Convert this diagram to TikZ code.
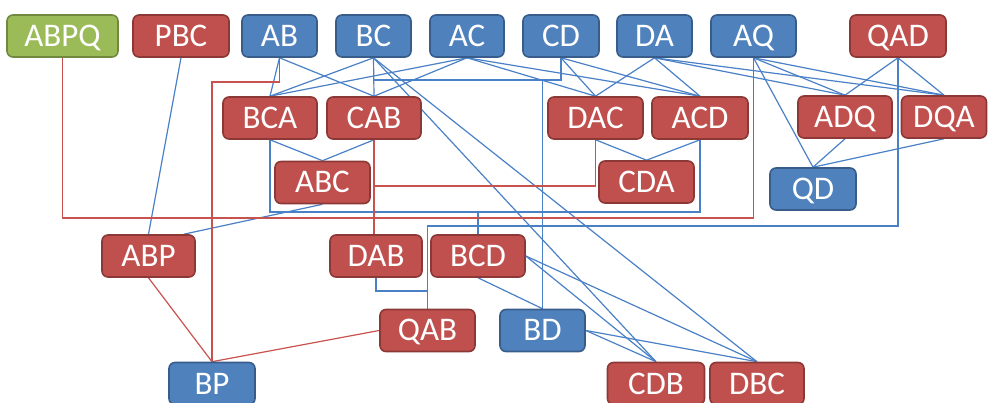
\documentclass[tikz,border=0pt]{standalone}
\usepackage{fontspec}
\setmainfont{Carlito}
\usetikzlibrary{backgrounds}
\definecolor{gfill}{HTML}{9BBB59}
\definecolor{gdraw}{HTML}{71893F}
\definecolor{rfill}{HTML}{C0504D}
\definecolor{rdraw}{HTML}{8C3836}
\definecolor{bfill}{HTML}{4F81BD}
\definecolor{bdraw}{HTML}{385D8A}
\definecolor{lblue}{HTML}{4A80C6}
\definecolor{lred}{HTML}{C8524E}
\begin{document}
\begin{tikzpicture}[x=1pt,y=-1pt,
  box/.style={rounded corners=6pt, line width=1.6pt, minimum height=42pt, inner sep=0pt,
    text=white, font=\fontsize{33}{33}\selectfont, text height=21pt, text depth=0pt},
  gbox/.style={box, fill=gfill, draw=gdraw},
  rbox/.style={box, fill=rfill, draw=rdraw},
  bbox/.style={box, fill=bfill, draw=bdraw},
  bl/.style={draw=lblue, line width=1.2pt},
  rl/.style={draw=lred, line width=1.2pt}]
\useasboundingbox (0,0) rectangle (988,403);
% row 1
\node[gbox, minimum width=111pt] (ABPQ) at (62.5,36) {ABPQ};
\node[rbox, minimum width=96pt] (PBC) at (181,36) {PBC};
\node[bbox, minimum width=75pt] (AB) at (279.5,36) {AB};
\node[bbox, minimum width=75pt] (BC) at (373.5,36) {BC};
\node[bbox, minimum width=74pt] (AC) at (467,36) {AC};
\node[bbox, minimum width=76pt] (CD) at (561,36) {CD};
\node[bbox, minimum width=75pt] (DA) at (654.5,36) {DA};
\node[bbox, minimum width=85pt] (AQ) at (753.5,36) {AQ};
\node[rbox, minimum width=96pt] (QAD) at (898,36) {QAD};
% row 2
\node[rbox, minimum width=94pt] (BCA) at (270,118) {BCA};
\node[rbox, minimum width=94pt] (CAB) at (374,118) {CAB};
\node[rbox, minimum width=95pt] (DAC) at (595.5,118) {DAC};
\node[rbox, minimum width=96pt] (ACD) at (700,118) {ACD};
\node[rbox, minimum width=94pt] (ADQ) at (845,117) {ADQ};
\node[rbox, minimum width=85pt] (DQA) at (944,117) {DQA};
% row 3
\node[rbox, minimum width=95pt] (ABC) at (322.5,182.5) {ABC};
\node[rbox, minimum width=95pt] (CDA) at (646.5,182) {CDA};
\node[bbox, minimum width=86pt] (QD) at (813,189) {QD};
% row 4
\node[rbox, minimum width=93pt] (ABP) at (148.5,256) {ABP};
\node[rbox, minimum width=92pt] (DAB) at (376,256) {DAB};
\node[rbox, minimum width=94pt] (BCD) at (478,256) {BCD};
% row 5
\node[rbox, minimum width=95pt] (QAB) at (427.5,330.5) {QAB};
\node[bbox, minimum width=85pt] (BD) at (542.5,330.5) {BD};
% row 6
\node[bbox, minimum width=86pt] (BP) at (212,383.5) {BP};
\node[rbox, minimum width=97pt] (CDB) at (656,383.5) {CDB};
\node[rbox, minimum width=94pt] (DBC) at (757,383.5) {DBC};
% helper levels
\coordinate (y80) at (0,80);
\coordinate (y82) at (0,82);
\coordinate (y186) at (0,186);
\coordinate (y212) at (0,212);
\coordinate (y218) at (0,218);
\coordinate (y226) at (0,226);
\coordinate (y291) at (0,291);
\begin{pgfonlayer}{background}
% blue: pairs to triples
\draw[bl] (AB.south) -- (BCA.north);
\draw[bl] (AB.south) -- (CAB.north);
\draw[bl] (BC.south) -- (BCA.north);
\draw[bl] (BC.south) -- (CAB.north);
\draw[bl] (AC.south) -- (BCA.north);
\draw[bl] (AC.south) -- (CAB.north);
\draw[bl] (AC.south) -- (DAC.north);
\draw[bl] (AC.south) -- (ACD.north);
\draw[bl] (CD.south) -- (DAC.north);
\draw[bl] (CD.south) -- (ACD.north);
\draw[bl] (DA.south) -- (DAC.north);
\draw[bl] (DA.south) -- (ACD.north);
\draw[bl] (DA.south) -- (ADQ.north);
\draw[bl] (DA.south) -- (DQA.north);
\draw[bl] (AQ.south) -- (ADQ.north);
\draw[bl] (AQ.south) -- (DQA.north);
\draw[bl] (QAD.south) -- (ADQ.north);
\draw[bl] (QAD.south) -- (DQA.north);
\draw[bl] (AQ.south) -- (QD.north);
\draw[bl] (ADQ.south) -- (QD.north);
\draw[bl] (DQA.south) -- (QD.north);
\draw[bl] (BCA.south) -- (ABC.north);
\draw[bl] (CAB.south) -- (ABC.north);
\draw[bl] (DAC.south) -- (CDA.north);
\draw[bl] (ACD.south) -- (CDA.north);
\draw[bl] (PBC.south) -- (ABP.north);
\draw[bl] (ABC.south) -- ([xshift=-12pt]ABP.north east);
% blue elbows
\draw[bl] (CD.south) |- (BC.south |- y80);
\draw[bl] (BD.north) -- (BD.north |- y80);
\draw[bl] (BCA.south) |- (ACD.south |- y212) -- (ACD.south);
\draw[bl] (BCD.north) -- (BCD.north |- y212);
\draw[bl] (QAD.south) |- (QAB.north |- y226) -- (QAB.north);
\draw[bl] (DAB.south) |- (QAB.north |- y291);
% blue long diagonals
\draw[bl] (BC.south) -- (CDB.north);
\draw[bl] (BC.south) -- (DBC.north);
\draw[bl] (BCD.east) -- (CDB.north);
\draw[bl] (BCD.east) -- (DBC.north);
\draw[bl] (BCD.south) -- (BD.north);
\draw[bl] (BD.east) -- (CDB.north);
\draw[bl] (BD.east) -- (DBC.north);
% red
\draw[rl] (ABPQ.south) |- (AQ.south |- y218) -- (AQ.south);
\draw[rl] (AB.south) |- (BP.north |- y82) -- (BP.north);
\draw[rl] (CAB.south) -- (CAB.south |- DAB.north);
\draw[rl] (DAC.south) |- (CAB.south |- y186);
\draw[rl] (ABP.south) -- (BP.north);
\draw[rl] (QAB.west) -- (BP.north);
\end{pgfonlayer}
\end{tikzpicture}
\end{document}
